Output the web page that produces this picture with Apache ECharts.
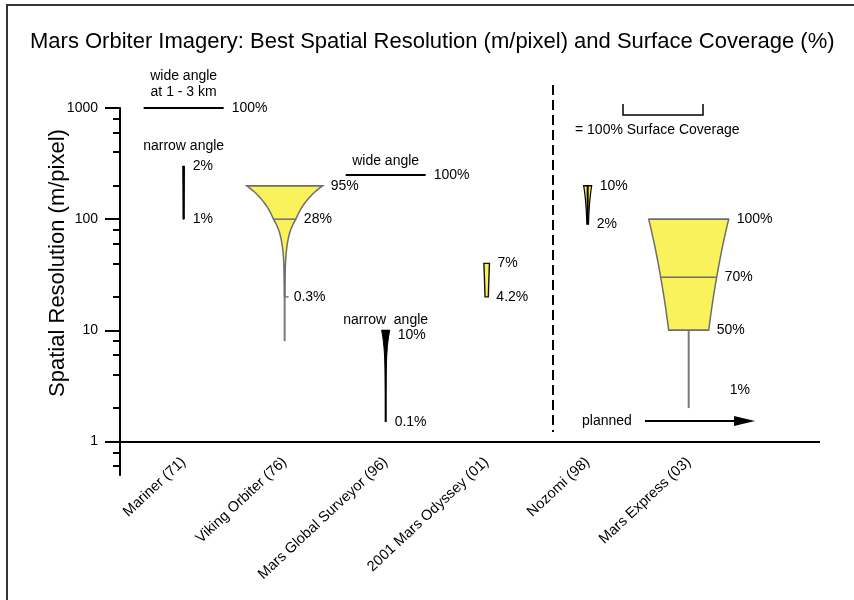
<!DOCTYPE html>
<html>
<head>
<meta charset="utf-8">
<script src="https://cdn.jsdelivr.net/npm/echarts@6/dist/echarts.min.js"></script>
<style>
  html, body { margin: 0; padding: 0; background: #fff; }
  #chart { width: 854px; height: 600px; }
</style>
</head>
<body>
<div id="chart"></div>
<script>
// Missions along the horizontal axis
const missions = ['Mariner (71)', 'Viking Orbiter (76)', 'Mars Global Surveyor (96)',
                  '2001 Mars Odyssey (01)', 'Nozomi (98)', 'Mars Express (03)'];

// Resolution axis ticks (m/pixel)
const majorTicks = [1, 10, 100, 1000];
const minorTicks = [0.6, 0.8, 2, 4, 6, 8, 20, 40, 60, 80, 200, 400, 600, 800];

// Coverage profiles: [best resolution m/pixel, surface coverage %], coarse to fine
const marinerWide    = [[1000, 100]];
const marinerNarrow  = [[300, 2], [100, 1]];
const vikingProfile  = [[200, 95], [100, 28], [20, 0.3]];
const vikingStemEnd  = 8;
const mgsWide        = [[250, 100]];
const mgsNarrow      = [[10, 10], [1.5, 0.1]];
const odysseyProfile = [[40, 7], [20, 4.2]];
const nozomiProfile  = [[200, 10], [90, 2]];
const expressProfile = [[100, 100], [30, 70], [10, 50]];
const expressStem    = [2, 1];   // finest resolution, coverage %

// Width of 100% surface coverage, in x-axis units
const COVER_UNITS = 0.792;

const FONT = '"Liberation Sans", Arial, Helvetica, sans-serif';
const YELLOW = '#faf25a';

const looks = {
  wide:   { stroke: '#000' },
  narrow: { fill: '#000', stroke: '#000', lineWidth: 1, stemColor: '#000', stemWidth: 2 },
  funnel: { fill: YELLOW, stroke: '#6e6e6e', lineWidth: 1.5, stemColor: '#7a7a7a', stemWidth: 2 },
  bar:    { fill: YELLOW, stroke: '#111', lineWidth: 1.4 },
  wedge:  { fill: YELLOW, stroke: '#000', lineWidth: 1.2, stemColor: '#000', stemWidth: 2, stemOnTop: true }
};

const instruments = [
  { mission: 0, profile: marinerWide, look: 'wide', caption: 'wide angle\nat 1 - 3 km', captionGap: 8 },
  { mission: 0, profile: marinerNarrow, look: 'narrow', caption: 'narrow angle', captionGap: 12 },
  { mission: 1, profile: vikingProfile, look: 'funnel', stemTo: vikingStemEnd },
  { mission: 2, profile: mgsWide, look: 'wide', caption: 'wide angle', captionGap: 6 },
  { mission: 2, profile: mgsNarrow, look: 'narrow', caption: 'narrow  angle', captionGap: 2, firstLabelDy: 5 },
  { mission: 3, profile: odysseyProfile, look: 'bar' },
  { mission: 4, profile: nozomiProfile, look: 'wedge' },
  { mission: 5, profile: expressProfile, look: 'funnel', stemTo: expressStem[0], stemCover: expressStem[1],
    stemLabelDx: 41, stemLabelDy: -18 }
];

// Interpolate coverage between profile points on log-log scales
function sampleProfile(profile) {
  const pts = [];
  const n = 16;
  for (let i = 0; i < profile.length - 1; i++) {
    const [r0, c0] = profile[i];
    const [r1, c1] = profile[i + 1];
    const last = i === profile.length - 2;
    for (let k = 0; k <= (last ? n : n - 1); k++) {
      const t = k / n;
      const lr = Math.log10(r0) + (Math.log10(r1) - Math.log10(r0)) * t;
      const lc = Math.log10(c0) + (Math.log10(c1) - Math.log10(c0)) * t;
      pts.push([Math.pow(10, lr), Math.pow(10, lc)]);
    }
  }
  return pts;
}

function seg(x1, y1, x2, y2, color, width) {
  return { type: 'line', shape: { x1, y1, x2, y2 }, style: { stroke: color, lineWidth: width } };
}
function label(x, y, text, align, vAlign) {
  return {
    type: 'text', x, y,
    style: { text, fill: '#000', font: '14px ' + FONT, align: align || 'left',
             verticalAlign: vAlign || 'middle', lineHeight: 16 }
  };
}

function renderInstrument(params, api) {
  const inst = instruments[api.value(2)];
  const st = looks[inst.look];
  const prof = inst.profile;
  const cx = api.coord([inst.mission, 1])[0];
  const unitPx = api.coord([1, 1])[0] - api.coord([0, 1])[0];
  const half = c => c / 100 * COVER_UNITS * unitPx / 2;
  const yOf = r => api.coord([inst.mission, r])[1];
  const children = [];

  if (prof.length === 1) {
    // single-resolution swath
    const y = yOf(prof[0][0]);
    const h = half(prof[0][1]);
    children.push(seg(cx - h, y, cx + h, y, st.stroke, 2));
  } else {
    const stemEnd = inst.stemTo != null ? inst.stemTo : prof[prof.length - 1][0];
    const stem = st.stemColor ? seg(cx, yOf(prof[0][0]), cx, yOf(stemEnd), st.stemColor, st.stemWidth) : null;
    if (stem && !st.stemOnTop) children.push(stem);
    const pts = sampleProfile(prof);
    const left = pts.map(([r, c]) => [cx - half(c), yOf(r)]);
    const right = pts.map(([r, c]) => [cx + half(c), yOf(r)]).reverse();
    children.push({
      type: 'polygon', shape: { points: left.concat(right) },
      style: { fill: st.fill, stroke: st.stroke, lineWidth: st.lineWidth, lineJoin: 'miter' }
    });
    if (stem && st.stemOnTop) children.push(stem);
    prof.forEach(([r, c]) => {
      const h = half(c);
      const y = yOf(r);
      if (h > 3) children.push(seg(cx - h, y, cx + h, y, st.stroke, st.lineWidth));
      else if (inst.stemTo != null && inst.stemTo < r) children.push(seg(cx, y, cx + 4, y, st.stemColor, 1.5));
    });
    if (inst.stemCover != null) {
      children.push(label(cx + (inst.stemLabelDx || 8), yOf(inst.stemTo) + (inst.stemLabelDy || 0),
                          inst.stemCover + '%'));
    }
  }

  prof.forEach(([r, c], i) => {
    const dy = i === 0 ? (inst.firstLabelDy || 0) : 0;
    children.push(label(cx + Math.max(half(c), 1) + 8, yOf(r) + dy, c + '%'));
  });

  if (inst.caption) {
    children.push(label(cx, yOf(prof[0][0]) - inst.captionGap, inst.caption, 'center', 'bottom'));
  }

  return { type: 'group', children };
}

const chart = echarts.init(document.getElementById('chart'), null, { renderer: 'canvas' });

const logAxisBase = {
  type: 'log', logBase: 10, min: 0.5, max: 1000, position: 'left', offset: 0,
  splitLine: { show: false }
};

chart.setOption({
  animation: false,
  backgroundColor: '#fff',
  grid: { left: 120, right: 34, top: 108, bottom: 125 },
  xAxis: {
    type: 'value', min: -0.63, max: 6.3,
    axisLine: { show: false }, axisTick: { show: false }, splitLine: { show: false },
    axisLabel: {
      customValues: missions.map((m, i) => i),
      formatter: v => missions[Math.round(v)],
      rotate: 43, margin: -15, color: '#000', fontSize: 14.6, fontFamily: FONT
    }
  },
  yAxis: [
    Object.assign({}, logAxisBase, {
      axisLine: { show: true, onZero: false, lineStyle: { color: '#000', width: 2 } },
      axisTick: { show: true, customValues: majorTicks, length: 15, lineStyle: { color: '#000', width: 2 } },
      axisLabel: { customValues: majorTicks, margin: 22, color: '#000', fontSize: 14, fontFamily: FONT,
                   formatter: v => String(Math.round(v)) }
    }),
    Object.assign({}, logAxisBase, {
      axisLine: { show: false, onZero: false },
      axisTick: { show: true, customValues: minorTicks, length: 7, lineStyle: { color: '#000', width: 2 } },
      axisLabel: { show: false }
    })
  ],
  series: [{
    type: 'custom',
    coordinateSystem: 'cartesian2d',
    xAxisIndex: 0, yAxisIndex: 0,
    encode: { x: 0, y: 1 },
    data: instruments.map((d, i) => [d.mission, d.profile[0][0], i]),
    renderItem: renderInstrument,
    silent: true,
    markLine: {
      silent: true, symbol: 'none', label: { show: false },
      lineStyle: { color: '#000', width: 2, type: 'solid' },
      data: [{ yAxis: 1 }]
    }
  }],
  graphic: [
    { type: 'rect', shape: { x: 7, y: 5, width: 900, height: 700 },
      style: { fill: 'none', stroke: '#333', lineWidth: 2 }, silent: true },
    { type: 'text', x: 30, y: 42,
      style: { text: 'Mars Orbiter Imagery: Best Spatial Resolution (m/pixel) and Surface Coverage (%)',
               fill: '#000', font: '22px ' + FONT, verticalAlign: 'middle' } },
    { type: 'text', x: 58, y: 263, rotation: Math.PI / 2,
      style: { text: 'Spatial Resolution (m/pixel)', fill: '#000', font: '22px ' + FONT,
               align: 'center', verticalAlign: 'middle' } },
    // present / planned divider
    { type: 'line', shape: { x1: 553, y1: 85, x2: 553, y2: 432 },
      style: { stroke: '#000', lineWidth: 2, lineDash: [10, 5] } },
    // coverage key
    { type: 'polyline', shape: { points: [[623, 104], [623, 115], [703, 115], [703, 104]] },
      style: { stroke: '#000', lineWidth: 1.5, fill: 'none' } },
    { type: 'text', x: 575, y: 130,
      style: { text: '= 100% Surface Coverage', fill: '#000', font: '14px ' + FONT, verticalAlign: 'middle' } },
    // planned arrow
    { type: 'text', x: 582, y: 421,
      style: { text: 'planned', fill: '#000', font: '14px ' + FONT, verticalAlign: 'middle' } },
    { type: 'line', shape: { x1: 645, y1: 421, x2: 740, y2: 421 },
      style: { stroke: '#000', lineWidth: 2 } },
    { type: 'polygon', shape: { points: [[734, 416], [755, 421], [734, 426]] },
      style: { fill: '#000' } }
  ]
});
</script>
</body>
</html>
